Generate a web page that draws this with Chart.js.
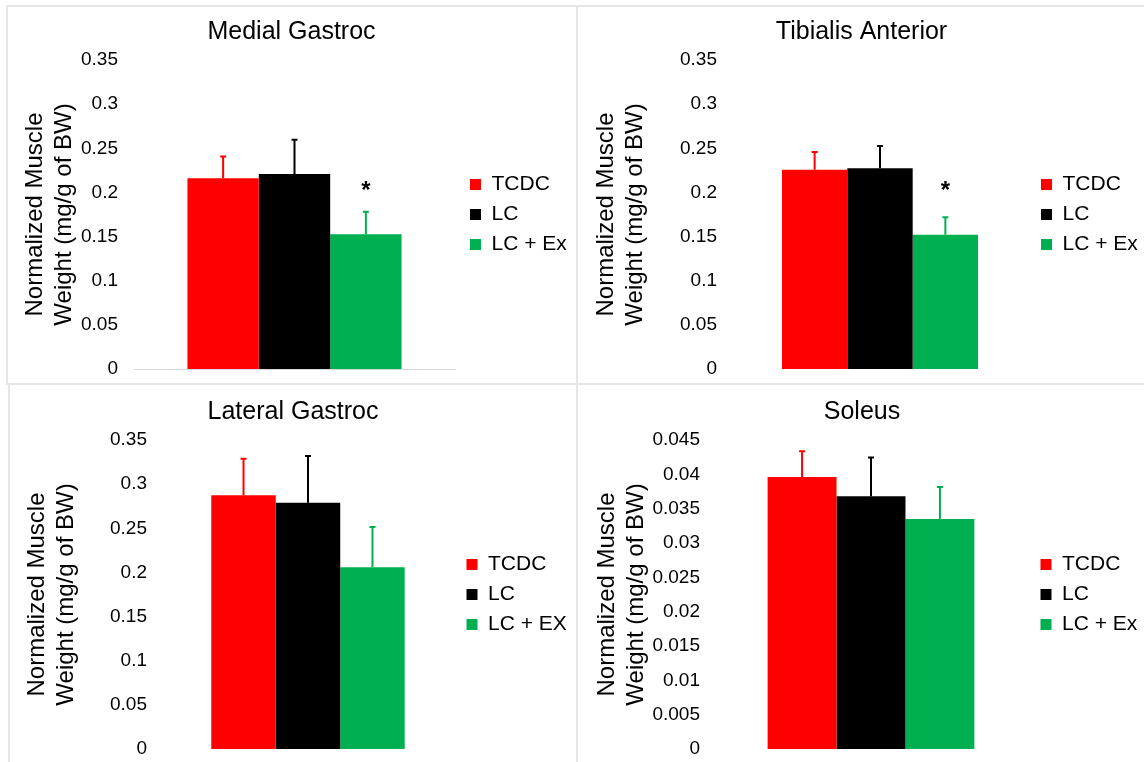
<!DOCTYPE html>
<html>
<head>
<meta charset="utf-8">
<script src="https://cdn.jsdelivr.net/npm/chart.js@4.4.1/dist/chart.umd.min.js"></script>
<style>
  html, body { margin: 0; padding: 0; background: #fff; }
  body { width: 1144px; height: 762px; position: relative; overflow: hidden; }
  .frame { position: absolute; box-sizing: border-box; border: 2px solid #e6e6e6; }
  canvas { position: absolute; }
</style>
</head>
<body>
<div class="frame" style="left:6px;top:5px;width:572px;height:380px"></div>
<div class="frame" style="left:576px;top:5px;width:600px;height:380px"></div>
<div class="frame" style="left:8px;top:383px;width:570px;height:400px"></div>
<div class="frame" style="left:576px;top:383px;width:600px;height:400px"></div>
<canvas id="medial" width="567" height="375" style="left:8px;top:7px"></canvas>
<canvas id="tibialis" width="565" height="375" style="left:579px;top:7px"></canvas>
<canvas id="lateral" width="566" height="376" style="left:10px;top:386px"></canvas>
<canvas id="soleus" width="564" height="376" style="left:580px;top:386px"></canvas>
<script>
// groups (legend labels)
const groups = ['TCDC', 'LC', 'LC + Ex'];
const groupsLateral = ['TCDC', 'LC', 'LC + EX'];
const barColors = ['#ff0000', '#000000', '#00b050'];

// y tick labels
const mainTicks = ['0', '0.05', '0.1', '0.15', '0.2', '0.25', '0.3', '0.35'];
const soleusTicks = ['0', '0.005', '0.01', '0.015', '0.02', '0.025', '0.03', '0.035', '0.04', '0.045'];

// means, upper error, and where the * sits
const medialMean = [0.216, 0.221, 0.1525];
const medialErr = [0.0257, 0.0397, 0.0268];
const medialStar = [null, null, 0.207];

const tibialisMean = [0.2258, 0.2273, 0.1521];
const tibialisErr = [0.0211, 0.0264, 0.0209];
const tibialisStar = [null, null, 0.207];

const lateralMean = [0.2873, 0.279, 0.2058];
const lateralErr = [0.0427, 0.054, 0.0468];

const soleusMean = [0.0396, 0.0368, 0.0335];
const soleusErr = [0.0039, 0.0058, 0.0048];

Chart.defaults.font.family = '"Liberation Sans", Arial, sans-serif';
Chart.defaults.color = '#000';

// draws the one-sided error bars and the * marks
const errorBars = {
  id: 'errorBars',
  afterDatasetsDraw(chart) {
    const ctx = chart.ctx;
    const y = chart.scales.y;
    chart.data.datasets.forEach((ds, i) => {
      const bar = chart.getDatasetMeta(i).data[0];
      const top = y.getPixelForValue(ds.data[0] + ds.errorBar);
      ctx.save();
      ctx.strokeStyle = ds.backgroundColor;
      ctx.lineWidth = 2;
      ctx.beginPath();
      ctx.moveTo(bar.x, bar.y);
      ctx.lineTo(bar.x, top);
      ctx.moveTo(bar.x - 3, top + 1);
      ctx.lineTo(bar.x + 3, top + 1);
      ctx.stroke();
      if (ds.star != null) {
        ctx.fillStyle = '#000';
        ctx.font = 'bold 24px "Liberation Sans", Arial, sans-serif';
        ctx.textAlign = 'center';
        ctx.textBaseline = 'middle';
        ctx.fillText('*', bar.x, y.getPixelForValue(ds.star) + 5);
      }
      ctx.restore();
    });
  }
};

function makePanel(id, title, labels, means, errs, stars, ticks, yMax, yStep, lay) {
  const datasets = labels.map((lab, i) => ({
    label: lab,
    data: [means[i]],
    errorBar: errs[i],
    star: stars ? stars[i] : null,
    backgroundColor: barColors[i],
    borderWidth: 0,
    categoryPercentage: 0.667,
    barPercentage: 1,
    yAxisID: 'y'
  }));
  return new Chart(document.getElementById(id), {
    type: 'bar',
    data: { labels: [''], datasets: datasets },
    options: {
      responsive: false,
      animation: false,
      layout: { padding: { left: 0, right: 0, top: 0, bottom: 13 } },
      plugins: {
        title: {
          display: true,
          text: title,
          font: { size: 25, weight: 'normal' },
          padding: { top: lay.titleTop, bottom: lay.titleBottom }
        },
        legend: {
          position: 'right',
          fullSize: false,
          maxWidth: lay.legendWidth,
          labels: { boxWidth: 11, boxHeight: 11, padding: 9, font: { size: 21 } }
        },
        tooltip: { enabled: false }
      },
      scales: {
        x: {
          grid: { display: false, drawTicks: false },
          ticks: { display: false },
          border: { display: lay.baseline, color: '#d9d9d9', width: 1 }
        },
        y: {
          min: 0,
          max: yMax,
          ticks: {
            stepSize: yStep,
            padding: 16,
            font: { size: 19 },
            callback: v => ticks.find(t => Math.abs(parseFloat(t) - v) < 1e-9) || ''
          },
          grid: { display: false, drawTicks: false },
          border: { display: false },
          title: {
            display: true,
            text: ['Normalized Muscle', 'Weight (mg/g of BW)'],
            font: { size: 24 },
            padding: { top: 13, bottom: 0 }
          },
          afterFit: s => {
            s.width = lay.axisWidth;
            s.paddingTop = 0;
            s.paddingBottom = 0;
          }
        },
        gap: {
          type: 'linear',
          position: 'right',
          grid: { display: false, drawTicks: false },
          ticks: { display: false },
          border: { display: false },
          afterFit: s => { s.width = lay.gap; }
        }
      }
    },
    plugins: [errorBars]
  });
}

makePanel('medial', 'Medial Gastroc', groups, medialMean, medialErr, medialStar, mainTicks, 0.35, 0.05,
  { axisWidth: 126, gap: 6, legendWidth: 114, titleTop: 10.5, titleBottom: 12.5, baseline: true });
makePanel('tibialis', 'Tibialis Anterior', groups, tibialisMean, tibialisErr, tibialisStar, mainTicks, 0.35, 0.05,
  { axisWidth: 154, gap: 5, legendWidth: 112, titleTop: 10.5, titleBottom: 12.5, baseline: false });
makePanel('lateral', 'Lateral Gastroc', groupsLateral, lateralMean, lateralErr, null, mainTicks, 0.35, 0.05,
  { axisWidth: 153, gap: 4.5, legendWidth: 118.5, titleTop: 11, titleBottom: 13, baseline: false });
makePanel('soleus', 'Soleus', groups, soleusMean, soleusErr, null, soleusTicks, 0.045, 0.005,
  { axisWidth: 136, gap: 5.5, legendWidth: 112.5, titleTop: 11, titleBottom: 13, baseline: false });
</script>
</body>
</html>
